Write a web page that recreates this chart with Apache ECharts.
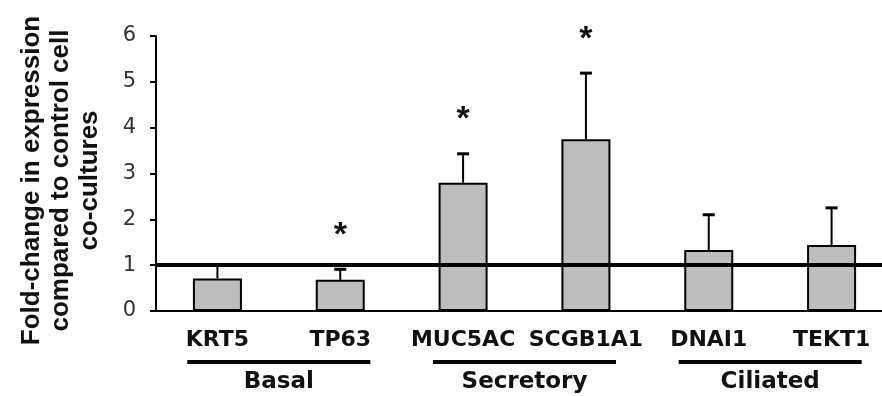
<!DOCTYPE html>
<html>
<head>
<meta charset="utf-8">
<script src="https://cdn.jsdelivr.net/npm/echarts@6/dist/echarts.min.js"></script>
<style>
  html, body { margin: 0; padding: 0; background: #fff; }
  #chart { width: 882px; height: 396px; }
</style>
</head>
<body>
<div id="chart"></div>
<script>
// genes, mean fold-change and upper error bar
const genes = ['KRT5', 'TP63', 'MUC5AC', 'SCGB1A1', 'DNAI1', 'TEKT1'];
const foldChange = [0.71, 0.68, 2.80, 3.75, 1.33, 1.44];
const errorUp = [0.29, 0.23, 0.63, 1.44, 0.77, 0.81];
const significance = ['', '*', '*', '*', '', ''];

// cell type groups under the gene labels
const groupNames = ['Basal', 'Secretory', 'Ciliated'];
const groupFirst = [0, 2, 4];
const groupLast = [1, 3, 5];

// control level
const controlLevel = 1;

const font = '"DejaVu Sans", sans-serif';

const chart = echarts.init(document.getElementById('chart'));

const option = {
  backgroundColor: '#fff',
  animation: false,
  grid: { left: 156, top: 36, width: 737, height: 275, outerBoundsMode: 'none' },
  xAxis: {
    type: 'category',
    data: genes,
    axisLine: { lineStyle: { color: '#000', width: 2 } },
    axisTick: { show: false },
    axisLabel: {
      interval: 0,
      color: '#111',
      fontFamily: font,
      fontWeight: 'bold',
      fontSize: 22,
      margin: 18
    }
  },
  yAxis: {
    type: 'value',
    min: 0,
    max: 6,
    interval: 1,
    name: 'Fold-change in expression\ncompared to control cell\nco-cultures',
    nameLocation: 'middle',
    nameRotate: 90,
    nameGap: 52,
    nameTextStyle: {
      color: '#111',
      fontFamily: '"Liberation Sans", Arial, sans-serif',
      fontWeight: 'bold',
      fontSize: 26,
      lineHeight: 29,
      padding: [0, 14, 0, 0]
    },
    axisLine: { show: true, lineStyle: { color: '#000', width: 2 } },
    axisTick: { show: true, length: 6, lineStyle: { color: '#000', width: 2 } },
    axisLabel: { color: '#333', fontFamily: font, fontSize: 21, margin: 20 },
    splitLine: { show: false }
  },
  series: [
    {
      type: 'bar',
      data: foldChange,
      barWidth: 49,
      itemStyle: { color: '#bdbdbd', borderColor: '#000', borderWidth: 2 },
      markLine: {
        silent: true,
        symbol: 'none',
        label: { show: false },
        lineStyle: { color: '#000', width: 4, type: 'solid' },
        data: [{ yAxis: controlLevel }]
      }
    },
    {
      // error bars + significance stars
      type: 'custom',
      z: 4,
      clip: false,
      data: genes.map((g, i) => [i, foldChange[i], errorUp[i]]),
      encode: { x: 0, y: 1 },
      renderItem: (params, api) => {
        const i = api.value(0);
        const base = api.coord([i, api.value(1)]);
        const top = api.coord([i, api.value(1) + api.value(2)]);
        const children = [
          { type: 'line', shape: { x1: base[0], y1: base[1], x2: top[0], y2: top[1] },
            style: { stroke: '#000', lineWidth: 2 } },
          { type: 'line', shape: { x1: top[0] - 6, y1: top[1], x2: top[0] + 6, y2: top[1] },
            style: { stroke: '#000', lineWidth: 3 } }
        ];
        if (significance[i]) {
          children.push({
            type: 'text',
            style: {
              text: significance[i],
              x: top[0], y: top[1] - 34,
              align: 'center', verticalAlign: 'middle',
              font: 'bold 34px "Liberation Sans", sans-serif',
              fill: '#111'
            }
          });
        }
        return { type: 'group', children };
      }
    },
    {
      // group underlines and names
      type: 'custom',
      clip: false,
      silent: true,
      data: groupNames.map((n, k) => [groupFirst[k], groupLast[k], 0]),
      encode: { x: [0, 1], y: 2 },
      renderItem: (params, api) => {
        const k = params.dataIndex;
        const p1 = api.coord([api.value(0), 0]);
        const p2 = api.coord([api.value(1), 0]);
        const band = api.size([1, 0])[0];
        const x1 = p1[0] - 0.245 * band;
        const x2 = p2[0] + 0.245 * band;
        const y = p1[1] + 51;
        return {
          type: 'group',
          children: [
            { type: 'line', shape: { x1, y1: y, x2, y2: y },
              style: { stroke: '#000', lineWidth: 4 } },
            { type: 'text', style: {
                text: groupNames[k], x: (x1 + x2) / 2, y: y + 20,
                align: 'center', verticalAlign: 'middle',
                font: 'bold 23px ' + font, fill: '#111' } }
          ]
        };
      }
    }
  ]
};

chart.setOption(option);
</script>
</body>
</html>
